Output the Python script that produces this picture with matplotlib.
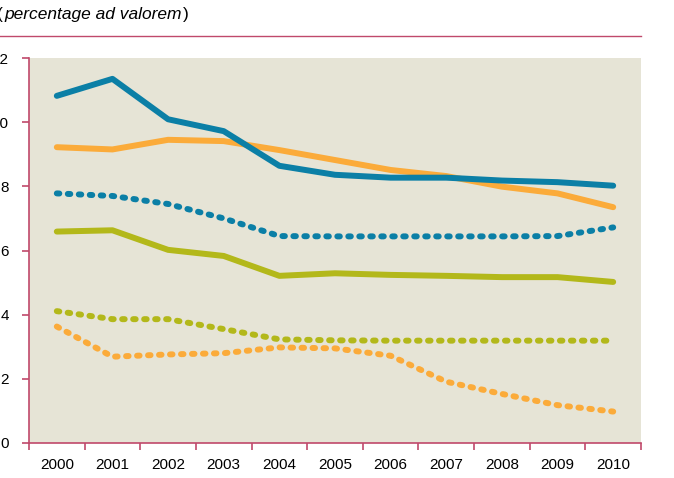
import matplotlib
matplotlib.use("Agg")
import matplotlib.pyplot as plt
from matplotlib.lines import Line2D

years = ["2000", "2001", "2002", "2003", "2004", "2005", "2006", "2007", "2008", "2009", "2010"]
yticks = [0, 2, 4, 6, 8, 10, 12]

orange_solid = [9.22, 9.15, 9.45, 9.41, 9.13, 8.82, 8.51, 8.32, 7.99, 7.78, 7.35]
teal_solid = [10.82, 11.35, 10.09, 9.72, 8.64, 8.36, 8.27, 8.27, 8.18, 8.13, 8.02]
teal_dotted = [7.78, 7.70, 7.45, 7.00, 6.45, 6.44, 6.44, 6.44, 6.44, 6.45, 6.72]
olive_solid = [6.59, 6.63, 6.02, 5.83, 5.21, 5.29, 5.24, 5.21, 5.17, 5.17, 5.02]
olive_dotted = [4.11, 3.86, 3.86, 3.55, 3.23, 3.20, 3.19, 3.19, 3.19, 3.19, 3.19]
orange_dotted = [3.63, 2.69, 2.76, 2.80, 2.98, 2.95, 2.72, 1.91, 1.53, 1.18, 0.98]

TEAL = "#0b7fa6"
ORANGE = "#fbab3a"
OLIVE = "#b3b81a"
BG = "#e6e4d6"
RED = "#c0496b"
FONT = ["Liberation Sans", "DejaVu Sans"]

W, H = 674, 478
fig = plt.figure(figsize=(W / 100, H / 100), dpi=100)
fig.patch.set_facecolor("white")

ax = fig.add_axes([29 / W, (H - 443) / H, (641 - 29) / W, (443 - 58) / H])
ax.set_facecolor(BG)

x = list(range(len(years)))
lw = 4.3
dot = (0, (0.42, 1.42))

ax.plot(x, orange_solid, color=ORANGE, lw=lw, solid_capstyle="round", solid_joinstyle="round")
ax.plot(x, teal_solid, color=TEAL, lw=lw, solid_capstyle="round", solid_joinstyle="round")
ax.plot(x, olive_solid, color=OLIVE, lw=lw, solid_capstyle="round", solid_joinstyle="round")
ax.plot(x, teal_dotted, color=TEAL, lw=lw, ls=dot, dash_capstyle="round", dash_joinstyle="round")
ax.plot(x, olive_dotted, color=OLIVE, lw=lw, ls=dot, dash_capstyle="round", dash_joinstyle="round")
ax.plot(x, orange_dotted, color=ORANGE, lw=lw, ls=dot, dash_capstyle="round", dash_joinstyle="round")

ax.set_xlim(-0.5, len(years) - 0.5)
ax.set_ylim(0, 12)

for s in ["top", "right"]:
    ax.spines[s].set_visible(False)
for s in ["left", "bottom"]:
    ax.spines[s].set_color(RED)
    ax.spines[s].set_linewidth(1.2)

ax.set_yticks(yticks)
ax.set_yticklabels([str(v) for v in yticks], family=FONT, fontsize=11)
ax.tick_params(axis="y", direction="out", length=5, width=1.2, color=RED, pad=9.5,
               labelcolor="black")

# x: ticks at category boundaries, labels at centers
ax.set_xticks([i - 0.5 for i in range(len(years) + 1)])
ax.set_xticklabels([])
ax.set_xticks(x, minor=True)
ax.set_xticklabels(years, minor=True, family=FONT, fontsize=11)
ax.tick_params(axis="x", which="major", direction="out", length=5, width=1.2, color=RED)
ax.tick_params(axis="x", which="minor", length=0, pad=11, labelcolor="black")

fig.add_artist(Line2D([0, 641 / W], [1 - 36 / H, 1 - 36 / H], color=RED, lw=1.0,
                      transform=fig.transFigure))

ty = 1 - 15 / H
fig.text(-0.005, ty, "(", fontsize=12.5, va="center", ha="left", color="black", family=FONT)
t = fig.text(0.006, ty, "percentage ad valorem", fontsize=12.5, style="italic",
             va="center", ha="left", color="black", family=FONT)
fig.canvas.draw()
bb = t.get_window_extent()
fig.text(bb.x1 / W + 0.002, ty, ")", fontsize=12.5, va="center", ha="left", color="black",
         family=FONT)

fig.savefig("out.png", dpi=100, facecolor="white")
